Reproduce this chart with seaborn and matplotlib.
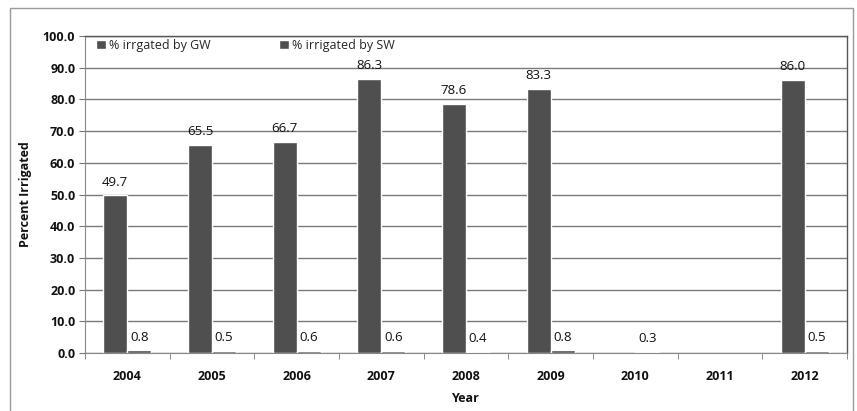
import matplotlib
matplotlib.use("Agg")
import matplotlib.pyplot as plt
import numpy as np
import pandas as pd
import seaborn as sns
from matplotlib.patches import Rectangle

years = ["2004", "2005", "2006", "2007", "2008", "2009", "2010", "2011", "2012"]
gw_pct = [49.7, 65.5, 66.7, 86.3, 78.6, 83.3, np.nan, np.nan, 86.0]
sw_pct = [0.8, 0.5, 0.6, 0.6, 0.4, 0.8, 0.3, np.nan, 0.5]
series = ["% irrgated by GW", "% irrigated by SW"]
y_ticks = [0, 10, 20, 30, 40, 50, 60, 70, 80, 90, 100]

df = pd.DataFrame({
    "Year": years * 2,
    "Percent": gw_pct + sw_pct,
    "Series": [series[0]] * len(years) + [series[1]] * len(years),
}).dropna()

sns.set_style("white")
plt.rcParams["font.family"] = ["Open Sans", "DejaVu Sans"]

bar_color = "#4f4f4f"
fig = plt.figure(figsize=(8.57, 4.11), dpi=100)
ax = fig.add_axes([0.0992, 0.1411, 0.8891, 0.7713])

sns.barplot(data=df, x="Year", y="Percent", hue="Series", order=years,
            hue_order=series, palette=[bar_color, bar_color], width=0.57,
            gap=0, saturation=1, ax=ax, legend=True, errorbar=None)

# value labels above each bar, taken from the bar heights
for cont in ax.containers:
    for bar in cont:
        if bar is None:
            continue
        h = bar.get_height()
        if not np.isfinite(h):
            continue
        ax.annotate(f"{h:.1f}", (bar.get_x() + bar.get_width() / 2, h),
                    xytext=(0, 5), textcoords="offset points",
                    ha="center", va="bottom", fontsize=9.5, color="#111111")

ax.set_ylim(0, 100)
ax.set_yticks(y_ticks)
ax.set_yticklabels([f"{t:.1f}" for t in y_ticks], fontsize=9, fontweight="bold",
                   color="#111111")
ax.set_xlim(-0.5, len(years) - 0.5)
ax.set_xticks(range(len(years)))
ax.set_xticklabels(years, fontsize=9, fontweight="bold", color="#111111")
ax.tick_params(axis="x", length=0, pad=12)
ax.tick_params(axis="y", length=4, color="#777777", direction="out", left=True, pad=3)
# category separators on the x axis
ax.set_xticks(np.arange(-0.5, len(years), 1), minor=True)
ax.tick_params(axis="x", which="minor", length=4, color="#777777", direction="out", bottom=True)

ax.yaxis.grid(True, color="#7a7a7a", linewidth=1)
ax.set_axisbelow(True)
for side in ["top", "right"]:
    ax.spines[side].set_color("#555555")
    ax.spines[side].set_linewidth(1)
ax.spines["left"].set_color("#888888")
ax.spines["bottom"].set_color("#888888")

ax.set_xlabel("Year", fontsize=9, fontweight="bold", labelpad=7, color="#111111")
ax.set_ylabel("Percent Irrigated", fontsize=9, fontweight="bold", labelpad=8,
              color="#111111")

leg = ax.legend(loc="upper left", ncol=2, frameon=False, fontsize=9,
                bbox_to_anchor=(0.005, 1.015), handlelength=0.8, handleheight=0.8,
                handletextpad=0.2, columnspacing=5.5, borderaxespad=0.2)

# outer frame around the whole chart
fig.patches.append(Rectangle((10 / 857, -0.05), 843 / 857, 1 - 8 / 411 + 0.05,
                             transform=fig.transFigure, fill=False,
                             edgecolor="#9a9a9a", linewidth=1))

fig.savefig("out.png", dpi=100)
